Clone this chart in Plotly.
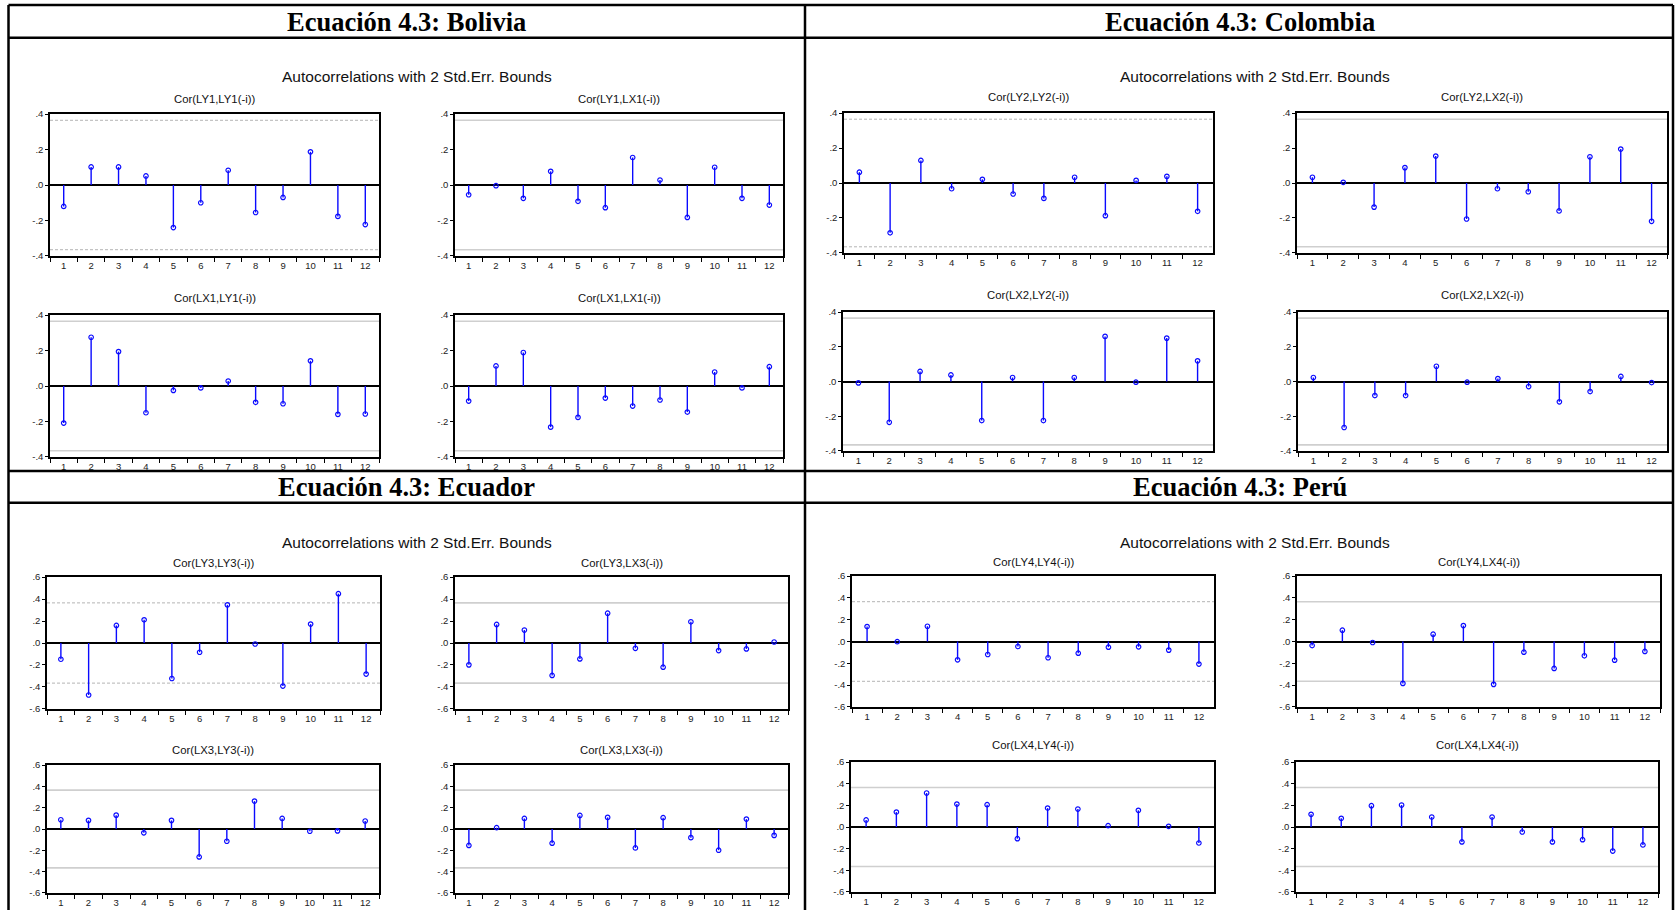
import plotly.graph_objects as go

W, H = 1675, 910

lags = [str(i) for i in range(1, 13)]
std_err_bound = 0.365  # 2 std. err. bound (n = 30)

# ---- Bolivia ----
bol_ly_ly = [-0.121, 0.102, 0.102, 0.051, -0.240, -0.100, 0.083, -0.155, -0.070, 0.187, -0.177, -0.223]
bol_ly_lx = [-0.055, -0.004, -0.075, 0.077, -0.092, -0.128, 0.155, 0.028, -0.183, 0.100, -0.075, -0.113]
bol_lx_ly = [-0.209, 0.275, 0.194, -0.151, -0.025, -0.011, 0.028, -0.092, -0.100, 0.142, -0.160, -0.158]
bol_lx_lx = [-0.085, 0.113, 0.189, -0.232, -0.177, -0.068, -0.113, -0.079, -0.147, 0.079, -0.011, 0.109]

# ---- Colombia ----
col_ly_ly = [0.062, -0.285, 0.129, -0.033, 0.021, -0.063, -0.088, 0.033, -0.187, 0.015, 0.038, -0.162]
col_ly_lx = [0.033, 0.004, -0.138, 0.088, 0.154, -0.206, -0.033, -0.050, -0.160, 0.150, 0.194, -0.219]
col_lx_ly = [-0.008, -0.235, 0.058, 0.038, -0.225, 0.023, -0.225, 0.023, 0.260, -0.004, 0.250, 0.119]
col_lx_lx = [0.023, -0.265, -0.081, -0.081, 0.088, -0.004, 0.017, -0.029, -0.117, -0.058, 0.029, -0.006]

# ---- Ecuador ----
ecu_ly_ly = [-0.148, -0.473, 0.160, 0.211, -0.323, -0.084, 0.347, -0.009, -0.392, 0.172, 0.449, -0.283]
ecu_ly_lx = [-0.199, 0.169, 0.118, -0.295, -0.145, 0.271, -0.048, -0.220, 0.193, -0.069, -0.054, 0.009]
ecu_lx_ly = [0.087, 0.081, 0.130, -0.036, 0.081, -0.262, -0.115, 0.262, 0.099, -0.021, -0.018, 0.075]
ecu_lx_lx = [-0.154, 0.012, 0.099, -0.133, 0.127, 0.109, -0.178, 0.106, -0.081, -0.199, 0.093, -0.060]

# ---- Perú ----
per_ly_ly = [0.137, -0.002, 0.140, -0.168, -0.119, -0.046, -0.149, -0.107, -0.052, -0.049, -0.079, -0.207]
per_ly_lx = [-0.037, 0.104, -0.009, -0.384, 0.067, 0.146, -0.393, -0.098, -0.247, -0.131, -0.171, -0.091]
per_lx_ly = [0.065, 0.138, 0.314, 0.212, 0.206, -0.108, 0.175, 0.166, 0.012, 0.154, 0.006, -0.148]
per_lx_lx = [0.117, 0.080, 0.197, 0.203, 0.092, -0.138, 0.092, -0.046, -0.138, -0.117, -0.222, -0.166]

panel_header = "Ecuación 4.3: "
acf_header = "Autocorrelations with 2 Std.Err. Bounds"

panels = [
    dict(country="Bolivia", k=1, lim=0.4,
         series=[bol_ly_ly, bol_ly_lx, bol_lx_ly, bol_lx_lx],
         title_pos=(406.5, 22), head_pos=(417, 76), sub_y=(99, 298),
         boxes=[(50, 379, 114, 256), (455, 783, 114, 256),
                (50, 379, 315, 457), (455, 783, 315, 457)]),
    dict(country="Colombia", k=2, lim=0.4,
         series=[col_ly_ly, col_ly_lx, col_lx_ly, col_lx_lx],
         title_pos=(1240, 22), head_pos=(1255, 76), sub_y=(97, 295),
         boxes=[(844, 1213, 113, 253), (1297, 1667, 113, 253),
                (843, 1213, 312, 451), (1298, 1667, 312, 451)]),
    dict(country="Ecuador", k=3, lim=0.6,
         series=[ecu_ly_ly, ecu_ly_lx, ecu_lx_ly, ecu_lx_lx],
         title_pos=(406.5, 487), head_pos=(417, 542), sub_y=(563, 750),
         boxes=[(47, 380, 577, 709), (455, 788, 577, 709),
                (47, 379, 765, 893), (455, 788, 765, 893)]),
    dict(country="Perú", k=4, lim=0.6,
         series=[per_ly_ly, per_ly_lx, per_lx_ly, per_lx_lx],
         title_pos=(1240, 487), head_pos=(1255, 542), sub_y=(562, 745),
         boxes=[(852, 1214, 576, 707), (1297, 1660, 576, 707),
                (851, 1214, 762, 892), (1296, 1658, 762, 892)]),
]

BLUE = "#0a0aff"
FONT = "Arial, Liberation Sans, sans-serif"


def px_x(x):
    return x / W


def px_y(y):
    return 1 - y / H


def tick_label(v):
    s = f"{v:.1f}"
    return s.replace("0.", ".")


fig = go.Figure()
layout = {}
shapes = []
annotations = []

n = 0
for p in panels:
    k = p["k"]
    pairs = [(f"LY{k}", f"LY{k}"), (f"LY{k}", f"LX{k}"), (f"LX{k}", f"LY{k}"), (f"LX{k}", f"LX{k}")]
    lim = p["lim"]
    yt = [round(-lim + 0.2 * i, 1) for i in range(int(round(2 * lim / 0.2)) + 1)]
    for j, (vals, (a, b), box) in enumerate(zip(p["series"], pairs, p["boxes"])):
        n += 1
        xa = "x" if n == 1 else f"x{n}"
        ya = "y" if n == 1 else f"y{n}"
        xk = "xaxis" if n == 1 else f"xaxis{n}"
        yk = "yaxis" if n == 1 else f"yaxis{n}"
        x0, x1, y0, y1 = box

        # stems
        sx, sy = [], []
        for lag, v in zip(lags, vals):
            sx += [lag, lag, None]
            sy += [0, v, None]
        fig.add_trace(go.Scatter(x=sx, y=sy, mode="lines", xaxis=xa, yaxis=ya,
                                 line=dict(color=BLUE, width=1.4),
                                 hoverinfo="skip", showlegend=False))
        fig.add_trace(go.Scatter(x=lags, y=vals, mode="markers", xaxis=xa, yaxis=ya,
                                 marker=dict(symbol="circle-open", size=4.5, color=BLUE,
                                             line=dict(color=BLUE, width=1.2)),
                                 showlegend=False))

        layout[xk] = dict(domain=[px_x(x0), px_x(x1)], anchor=ya, type="category",
                          categoryorder="array", categoryarray=lags,
                          range=[-0.5, 11.5], tickson="boundaries", automargin=False,
                          ticks="outside", ticklen=4, tickwidth=1, tickcolor="black",
                          showline=True, linecolor="black", linewidth=1.5, mirror=True,
                          showgrid=False, zeroline=False,
                          tickfont=dict(family=FONT, size=9.5, color="#222"))
        layout[yk] = dict(domain=[px_y(y1), px_y(y0)], anchor=xa, automargin=False,
                          range=[-lim - 0.0005, lim + 0.0005],
                          tickvals=yt, ticktext=[tick_label(v) for v in yt],
                          ticks="outside", ticklen=3, tickwidth=1, tickcolor="black",
                          showline=True, linecolor="black", linewidth=1.5, mirror=True,
                          showgrid=False, zeroline=True, zerolinecolor="black",
                          zerolinewidth=1.5,
                          tickfont=dict(family=FONT, size=9.5, color="#222"))

        # 2 std. err. bounds
        for sgn in (1, -1):
            if j == 0:
                line = dict(color="#b4b4b4", width=1, dash="3px,2px")
            else:
                line = dict(color="#cfcfcf", width=1.6)
            shapes.append(dict(type="line", xref=f"{xa} domain", yref=ya,
                               x0=0, x1=1, y0=sgn * std_err_bound, y1=sgn * std_err_bound,
                               line=line, layer="below"))

        sub_y = p["sub_y"][0] if j < 2 else p["sub_y"][1]
        annotations.append(dict(text=f"Cor({a},{b}(-i))", xref="paper", yref="paper",
                                x=px_x((x0 + x1) / 2), y=px_y(sub_y),
                                xanchor="center", yanchor="middle", showarrow=False,
                                font=dict(family=FONT, size=11.3, color="#111")))

    # panel headings
    tx, ty = p["title_pos"]
    annotations.append(dict(text=f"<b>{panel_header}{p['country']}</b>", xref="paper", yref="paper",
                            x=px_x(tx), y=px_y(ty), xanchor="center", yanchor="middle",
                            showarrow=False,
                            font=dict(family="Liberation Serif, Times New Roman, serif",
                                      size=26.5, color="black")))
    hx, hy = p["head_pos"]
    annotations.append(dict(text=acf_header, xref="paper", yref="paper",
                            x=px_x(hx), y=px_y(hy), xanchor="center", yanchor="middle",
                            showarrow=False, font=dict(family=FONT, size=15.5, color="#111")))

# table frame
LW = 2.5
LEFT, MID, RIGHT, TOP = 8.5, 805, 1673, 5
for yy in (TOP, 37.7, 471, 502.7):
    shapes.append(dict(type="line", xref="paper", yref="paper",
                       x0=px_x(LEFT), x1=px_x(RIGHT), y0=px_y(yy), y1=px_y(yy),
                       line=dict(color="black", width=LW)))
for xx in (LEFT, MID, RIGHT):
    shapes.append(dict(type="line", xref="paper", yref="paper",
                       x0=px_x(xx), x1=px_x(xx), y0=px_y(TOP), y1=px_y(H + 5),
                       line=dict(color="black", width=LW)))

fig.update_layout(width=W, height=H, margin=dict(l=0, r=0, t=0, b=0, pad=0),
                  paper_bgcolor="white", plot_bgcolor="white",
                  shapes=shapes, annotations=annotations, showlegend=False,
                  **layout)

fig.write_html("out.html")
